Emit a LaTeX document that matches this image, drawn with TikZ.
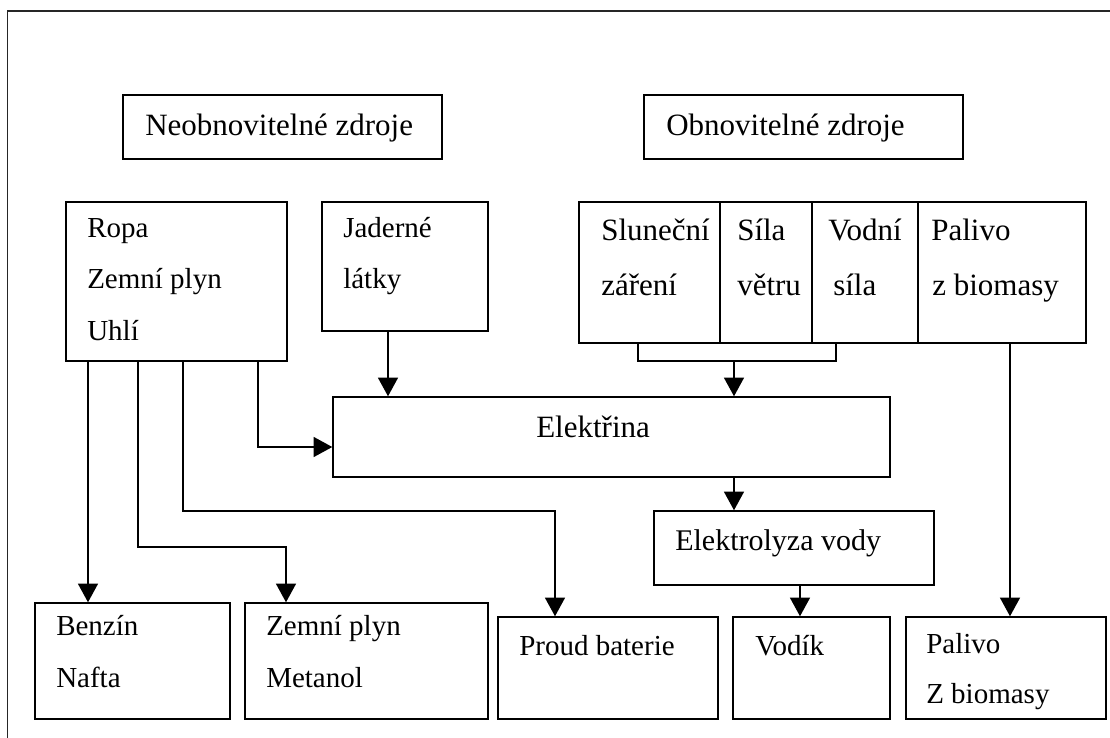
\documentclass[tikz,border=0pt]{standalone}
\usepackage{fontspec}
\setmainfont{Liberation Serif}
\usetikzlibrary{arrows.meta,fit}
\begin{document}
\begin{tikzpicture}[x=0.75pt,y=-0.75pt,
  box/.style={draw, line width=1.1pt, inner sep=0pt, rectangle},
  lbl/.style={anchor=base west, inner sep=0pt, font=\fontsize{21.75}{26}\selectfont},
  lblbig/.style={lbl, font=\fontsize{23.25}{28}\selectfont},
  lblmid/.style={lbl, font=\fontsize{22.5}{27}\selectfont},
  conn/.style={line width=1.1pt},
  arr/.style={conn, -{Triangle[length=14pt,width=15pt]}},
  frameline/.style={line width=1.3pt, draw=black!85}]
\clip (0,0) rectangle (1110,738);
% outer frame (runs off the right and bottom)
\coordinate (fbl) at (7.5,760);
\coordinate (ftl) at (7.5,11);
\coordinate (ftr) at (1130,11);
\draw[frameline] (fbl) -- (ftl) -- (ftr);

% x positions of connectors
\foreach \xx in {88,138,183,258,286,388,555,638,720,734,800,812,836,918,1010}
  \coordinate (c\xx) at (\xx,0);
\foreach \yy in {361,447,511,547}
  \coordinate (l\yy) at (0,\yy);

% boxes
\node[box, fit={(123,95) (442,159)}] (neob) {};
\node[box, fit={(644,95) (963,159)}] (obn) {};
\node[box, fit={(66,202) (287,361)}] (ropa) {};
\node[box, fit={(322,202) (488,331)}] (jad) {};
\node[box, fit={(579,202) (1086,343)}] (renew) {};
\node[box, fit={(333,397) (890,477)}] (elek) {};
\node[box, fit={(654,511) (934,585)}] (elyz) {};
\node[box, fit={(35,603) (230,719)}] (benzin) {};
\node[box, fit={(245,603) (488,719)}] (zemni) {};
\node[box, fit={(498,617) (718,719)}] (proud) {};
\node[box, fit={(733,617) (890,719)}] (vodik) {};
\node[box, fit={(906,617) (1106,719)}] (palivo) {};

% dividers in the renewable group
\draw[conn] (renew.north -| c720) -- (renew.south -| c720);
\draw[conn] (renew.north -| c812) -- (renew.south -| c812);
\draw[conn] (renew.north -| c918) -- (renew.south -| c918);

% texts
\node[lblbig] (tneob) at (145,136) {Neobnovitelné zdroje};
\node[lblbig] (tobn) at (666,136) {Obnovitelné zdroje};
\node[lbl] (tropa1) at (87,238) {Ropa};
\node[lbl] (tropa2) at (87,288) {Zemní plyn};
\node[lbl] (tropa3) at (87,340) {Uhlí};
\node[lbl] (tjad1) at (343,238) {Jaderné};
\node[lbl] (tjad2) at (343,288) {látky};
\node[lblbig] (tsl1) at (601,240) {Sluneční};
\node[lblbig] (tsl2) at (601,295) {záření};
\node[lblbig] (tsi1) at (737,240) {Síla};
\node[lblbig] (tsi2) at (737,295) {větru};
\node[lblbig] (tvo1) at (828,240) {Vodní};
\node[lblbig] (tvo2) at (833,295) {síla};
\node[lblbig] (tpa1) at (931,240) {Palivo};
\node[lblbig] (tpa2) at (932,295) {z biomasy};
\node[lblbig] (telek) at (536,437) {Elektřina};
\node[lblmid] (telyz) at (675,550) {Elektrolyza vody};
\node[lbl] (tben1) at (56,635) {Benzín};
\node[lbl] (tben2) at (56,687) {Nafta};
\node[lbl] (tzem1) at (266,635) {Zemní plyn};
\node[lbl] (tzem2) at (266,687) {Metanol};
\node[lbl] (tproud) at (519,655) {Proud baterie};
\node[lbl] (tvod) at (755,655) {Vodík};
\node[lbl] (tpal1) at (926,653) {Palivo};
\node[lbl] (tpal2) at (926,703) {Z biomasy};

% connectors
\draw[conn] (renew.south -| c638) |- (l361 -| c836) -- (renew.south -| c836);
\draw[arr] (l361 -| c734) -- (elek.north -| c734);
\draw[arr] (renew.south -| c1010) -- (palivo.north -| c1010);
\draw[arr] (jad.south -| c388) -- (elek.north -| c388);
\draw[arr] (ropa.south -| c258) |- (elek.west |- l447);
\draw[arr] (ropa.south -| c183) -- (l511 -| c183) -| (proud.north -| c555);
\draw[arr] (ropa.south -| c138) -- (l547 -| c138) -| (zemni.north -| c286);
\draw[arr] (ropa.south -| c88) -- (benzin.north -| c88);
\draw[arr] (elek.south -| c734) -- (elyz.north -| c734);
\draw[arr] (elyz.south -| c800) -- (vodik.north -| c800);
\end{tikzpicture}
\end{document}
